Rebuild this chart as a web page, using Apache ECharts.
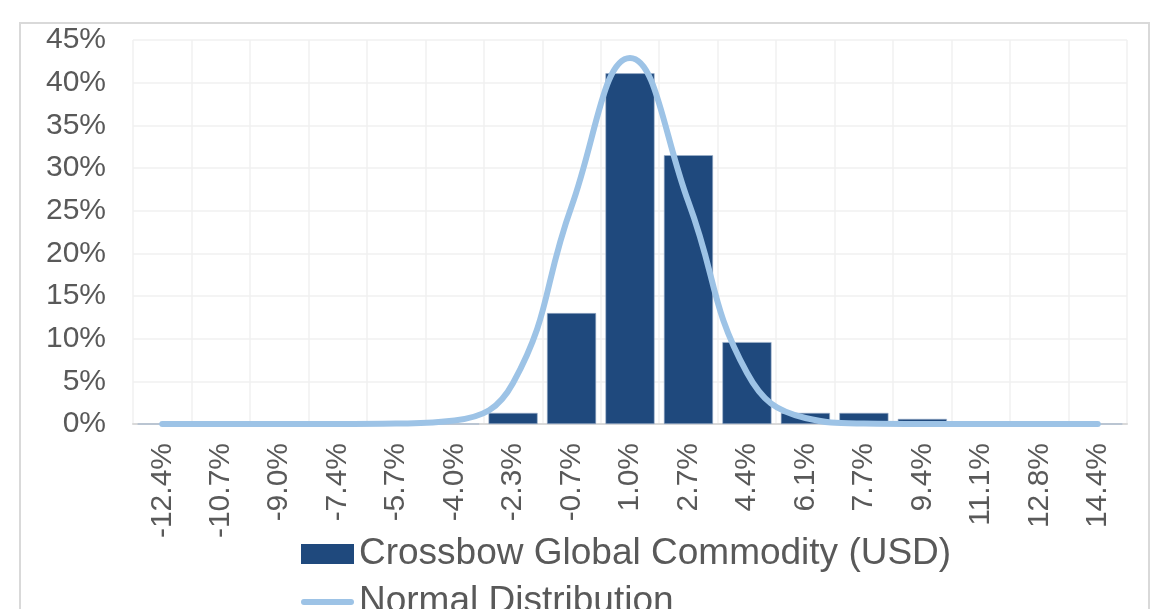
<!DOCTYPE html>
<html>
<head>
<meta charset="utf-8">
<script src="https://cdn.jsdelivr.net/npm/echarts@6/dist/echarts.min.js"></script>
<style>
html,body{margin:0;padding:0;background:#fff;}
#c{width:1176px;height:609px;}
</style>
</head>
<body>
<div id="c"></div>
<script>
var categories = ['-12.4%','-10.7%','-9.0%','-7.4%','-5.7%','-4.0%','-2.3%','-0.7%','1.0%','2.7%','4.4%','6.1%','7.7%','9.4%','11.1%','12.8%','14.4%'];
var fundValues = [0,0,0,0,0,0,1.3,13.0,41.1,31.5,9.6,1.3,1.3,0.6,0,0,0];
var normalValues = [0,0,0,0,0.05,0.4,4.8,25.5,42.9,26.0,6.0,0.7,0.05,0,0,0,0];
var yTicks = {min:0, max:45, interval:5};

var chart = echarts.init(document.getElementById('c'));
var font = 'Liberation Sans, Arial, sans-serif';
var lineIcon = 'path://M0,0M54,20M3,7L51,7A3,3,0,0,1,51,13L3,13A3,3,0,0,1,3,7Z';
chart.setOption({
  animation:false,
  backgroundColor:'#fff',
  graphic:[{type:'rect', shape:{x:20,y:23,width:1129,height:700}, style:{fill:'none', stroke:'#d9d9d9', lineWidth:2}, silent:true}],
  grid:{left:133, right:49, top:40, bottom:185, containLabel:false},
  legend:{
    orient:'vertical', left:296, top:529, height:200, itemWidth:53, itemHeight:20, itemGap:8,
    textStyle:{fontFamily:font, fontSize:37, color:'#595959', lineHeight:40},
    data:[
      {name:'Crossbow Global Commodity (USD)', icon:'rect', itemStyle:{color:'#1f497d', borderWidth:0}},
      {name:'Normal Distribution', icon:lineIcon, itemStyle:{color:'#9dc3e6', borderWidth:0}}
    ]
  },
  xAxis:{
    type:'category', data:categories, boundaryGap:true,
    axisLine:{lineStyle:{color:'#d9d9d9', width:2}},
    axisTick:{show:false},
    splitLine:{show:true, interval:0, lineStyle:{color:'#f0f0f0', width:1.5}},
    axisLabel:{interval:0, rotate:90, margin:19, fontFamily:font, fontSize:30, color:'#595959'}
  },
  yAxis:{
    type:'value', min:yTicks.min, max:yTicks.max, interval:yTicks.interval,
    axisLine:{show:false}, axisTick:{show:false},
    splitLine:{lineStyle:{color:'#f0f0f0', width:1.5}},
    axisLabel:{formatter:'{value}%', margin:27, fontFamily:font, fontSize:30, color:'#595959'}
  },
  series:[
    {name:'Crossbow Global Commodity (USD)', type:'bar', data:fundValues, barCategoryGap:'16%',
     itemStyle:{color:'#1f497d', borderColor:'#9fb3cc', borderWidth:0.6}, z:2},
    {name:'Normal Distribution', type:'line', data:normalValues, smooth:0.45, symbol:'none',
     lineStyle:{color:'#9dc3e6', width:6, cap:'round'}, itemStyle:{color:'#9dc3e6'}, z:3}
  ]
});
</script>
</body>
</html>
